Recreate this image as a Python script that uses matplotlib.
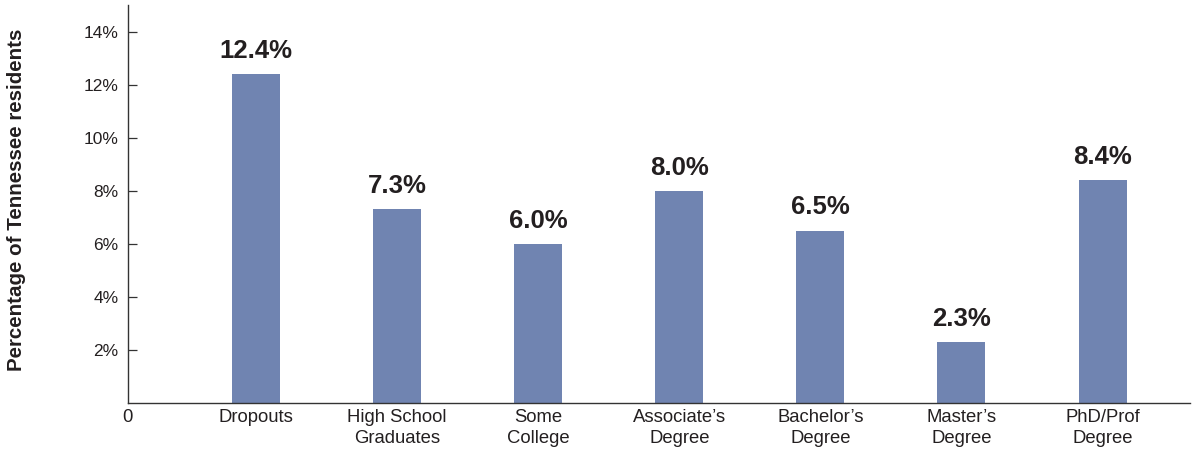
import matplotlib
matplotlib.use("Agg")
import matplotlib.pyplot as plt
import numpy as np

categories = ["Dropouts", "High School\nGraduates", "Some\nCollege", "Associate\u2019s\nDegree",
              "Bachelor\u2019s\nDegree", "Master\u2019s\nDegree", "PhD/Prof\nDegree"]
values = [12.4, 7.3, 6.0, 8.0, 6.5, 2.3, 8.4]
yticks = [2, 4, 6, 8, 10, 12, 14]
ytick_labels = ["2%", "4%", "6%", "8%", "10%", "12%", "14%"]

plt.rcParams['font.family'] = ['Liberation Sans', 'DejaVu Sans']

fig = plt.figure(figsize=(11.93, 4.5), dpi=100)
ax = fig.add_axes([128/1193, 1 - 403/450, (1190 - 128)/1193, (403 - 5)/450])

bar_color = "#7084b1"
x = np.arange(len(categories))
ax.bar(x, values, width=0.34, color=bar_color, zorder=2)

for xi, v in zip(x, values):
    ax.annotate(f"{v:.1f}%", xy=(xi, v), xytext=(0, 8), textcoords="offset points",
                ha="center", va="bottom", fontsize=18.5, fontweight="bold", color="#231f20")

ax.set_xlim(-0.908, 6.62)
ax.set_ylim(0, 15)
ax.set_yticks(yticks)
ax.set_yticklabels(ytick_labels)
ax.set_xticks(x)
ax.set_xticklabels(categories, linespacing=1.38)

for s in ["top", "right"]:
    ax.spines[s].set_visible(False)
for s in ["left", "bottom"]:
    ax.spines[s].set_color("#333333")
    ax.spines[s].set_linewidth(1.0)

ax.tick_params(axis="y", direction="in", length=6.5, width=0.9, color="#333333",
               pad=7, labelsize=12.5, labelcolor="#231f20")
ax.tick_params(axis="x", length=0, pad=4, labelsize=13.3, labelcolor="#231f20")

ax.annotate("0", xy=(0, 0), xycoords="axes fraction", xytext=(-0.5, -4),
            textcoords="offset points", ha="center", va="top", fontsize=13.3, color="#231f20")

fig.text(17/1193, 1 - 200/450, "Percentage of Tennessee residents", rotation=90,
         ha="center", va="center", fontsize=14.8, fontweight="bold", color="#231f20")

fig.savefig("out.png", dpi=100)
